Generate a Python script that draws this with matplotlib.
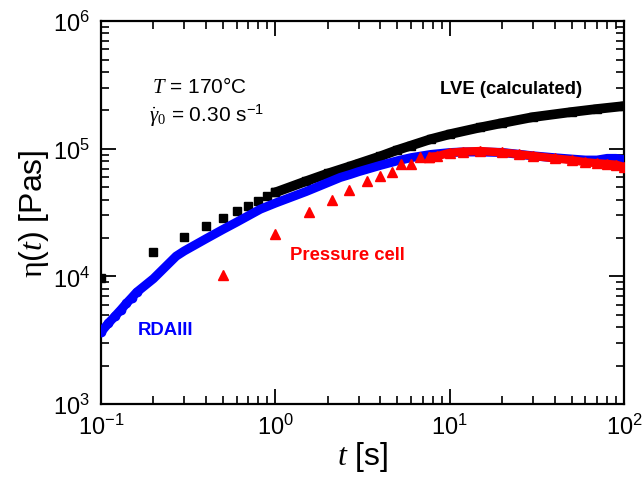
import matplotlib
matplotlib.use("Agg")
import matplotlib.pyplot as plt

plt.rcParams["font.family"] = ["Liberation Sans", "DejaVu Sans"]
plt.rcParams["mathtext.fontset"] = "custom"
plt.rcParams["mathtext.rm"] = "Liberation Sans"
plt.rcParams["mathtext.it"] = "Liberation Serif:italic"
plt.rcParams["mathtext.sf"] = "Liberation Serif"
plt.rcParams["mathtext.bf"] = "Liberation Sans:bold"

# LVE (calculated): sparse squares up to 1 s, dense band afterwards
lve_t_sparse = [0.1, 0.2, 0.3, 0.4, 0.5, 0.6, 0.7, 0.8, 0.9, 1.0]
lve_eta_sparse = [9700, 15500, 20400, 24900, 28500, 32300, 35700, 39100, 42300, 45500]
lve_t_dense = [1.0, 1.5, 2.0, 2.7, 3.0, 4.0, 5.0, 6.0, 7.8, 10, 15, 20, 30, 50, 70, 100]
lve_eta_dense = [45500, 55700, 64000, 73000, 76600, 87300, 97700, 105900, 119000,
                 130000, 147000, 159000, 177000, 194000, 205000, 216000]

# RDAIII
rda_t_sparse = [0.1, 0.11, 0.12, 0.13, 0.14, 0.15, 0.16]
rda_eta_sparse = [3650, 4280, 4860, 5470, 6150, 6800, 7500]
rda_t = [0.1, 0.11, 0.12, 0.13, 0.14, 0.15, 0.16, 0.2, 0.27, 0.3, 0.4, 0.5, 0.6, 0.82, 1.0,
         1.5, 2.0, 2.36, 2.7, 3.0, 4.0, 5.0, 6.0, 7.8, 10, 12, 15, 20, 30, 40, 50, 60, 70,
         80, 90, 100]
rda_eta = [3650, 4280, 4860, 5470, 6150, 6800, 7500, 9600, 14400, 15800, 19700, 23300, 26600,
           33600, 37500, 46200, 54300, 59600, 63000, 66100, 74100, 80400, 85100, 90200, 93300,
           94400, 94400, 93500, 88000, 85000, 83000, 81500, 81500, 84000, 84000, 82000]

# Pressure cell
pc_t_sparse = [0.5, 1.0, 1.55, 2.12, 2.64, 3.37, 3.98, 4.64, 5.27, 6.0, 6.8, 7.6]
pc_eta_sparse = [10300, 21600, 31800, 39900, 47900, 56100, 60700, 66100, 75700, 75700, 85400, 86500]
pc_t_dense = [7.6, 8.5, 10, 12, 15, 20, 25, 30, 40, 50, 60, 70, 80, 90, 100]
pc_eta_dense = [86500, 87500, 93000, 95000, 96000, 93500, 90500, 88000, 84000, 81500,
                78500, 77000, 76000, 75000, 72000]

fig = plt.figure(figsize=(6.42, 4.81), dpi=100)
ax = fig.add_axes([0.1573, 0.158, 0.972 - 0.1573, 0.954 - 0.158])

# black band + squares
ax.plot(lve_t_dense, lve_eta_dense, "-s", color="black", lw=7, ms=5.3,
        solid_capstyle="butt", zorder=2)
ax.plot(lve_t_sparse, lve_eta_sparse, "s", color="black", ms=5.3, zorder=2)

# blue band + circles
ax.plot(rda_t, rda_eta, "-", color="#0000ff", lw=6.5, solid_capstyle="round",
        solid_joinstyle="round", zorder=3)
ax.plot(rda_t_sparse, rda_eta_sparse, "o", color="#0000ff", ms=6, zorder=3)

# red band + triangles
ax.plot(pc_t_dense, pc_eta_dense, "-^", color="#ff0000", lw=6, ms=7,
        solid_capstyle="butt", zorder=4)
ax.plot(pc_t_sparse, pc_eta_sparse, "^", color="#ff0000", ms=7.5, zorder=4)

ax.set_xscale("log")
ax.set_yscale("log")
ax.set_xlim(0.1, 100)
ax.set_ylim(1e3, 1e6)

ax.tick_params(which="both", direction="in", top=True, right=True, labelsize=17)
ax.tick_params(which="major", length=10.5, width=1.3)
ax.tick_params(axis="x", which="major", pad=7)
ax.tick_params(axis="y", which="major", pad=8)
ax.tick_params(which="minor", length=5.5, width=1.2)
for s in ax.spines.values():
    s.set_linewidth(1.6)

ax.set_xlabel(r"$\mathit{t}$ [s]", fontsize=23, labelpad=0)
ax.set_ylabel(r"$\mathsf{\eta}(\mathit{t})$ [Pas]", fontsize=23, labelpad=1)

ax.text(0.097, 0.815, r"$\mathit{T}$ = 170°C", transform=ax.transAxes,
        fontsize=15, va="baseline")
ax.text(0.092, 0.740, r"$\dot{\mathit{\gamma}}_{\mathsf{0}}$ = 0.30 s$^{\mathrm{-1}}$",
        transform=ax.transAxes, fontsize=15, va="baseline")

ax.text(0.648, 0.811, "LVE (calculated)", transform=ax.transAxes, fontsize=13.3,
        fontweight="bold", color="black", ha="left", va="baseline")
ax.text(0.361, 0.379, "Pressure cell", transform=ax.transAxes, fontsize=13.3,
        fontweight="bold", color="#ff0000", ha="left", va="baseline")
ax.text(0.070, 0.183, "RDAIII", transform=ax.transAxes, fontsize=13.3,
        fontweight="bold", color="#0000ff", ha="left", va="baseline")

fig.savefig("out.png", dpi=100)
